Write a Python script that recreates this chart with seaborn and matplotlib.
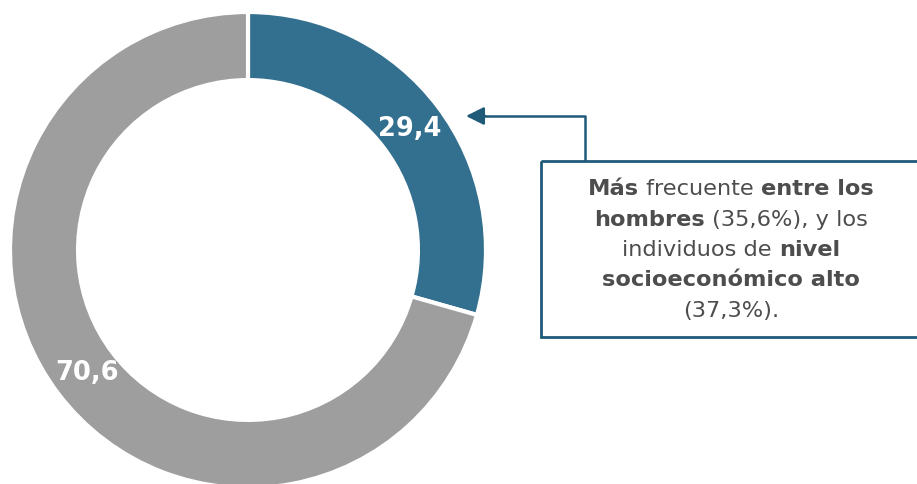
import numpy as np
import matplotlib
matplotlib.use("Agg")
import matplotlib.pyplot as plt
import seaborn as sns
from matplotlib.offsetbox import TextArea, HPacker, VPacker, AnchoredOffsetbox

sns.set_theme(style="white")
plt.rcParams['font.family'] = ['DejaVu Sans']

labels = ["Sí", "No"]
values = [29.4, 70.6]
colors = ["#336f8e", "#9d9e9d"]

note_lines = [
    [("Más", True), (" frecuente ", False), ("entre los", True)],
    [("hombres", True), (" (35,6%), y los", False)],
    [("individuos de ", False), ("nivel", True)],
    [("socioeconómico alto", True)],
    [("(37,3%).", False)],
]

W, H = 917, 485
fig = plt.figure(figsize=(W / 100, H / 100), dpi=100)

# donut
ax = fig.add_axes([10 / W, -4 / H, 476 / W, 476 / H])
wedges, texts, autotexts = ax.pie(
    values, startangle=90, counterclock=False, colors=colors,
    autopct=lambda p: f"{p:.1f}".replace(".", ","), pctdistance=0.85,
    wedgeprops=dict(width=0.286, edgecolor="white", linewidth=3),
    textprops=dict(color="white", fontsize=18.5, fontweight="bold"),
)
ax.set_xlim(-1, 1)
ax.set_ylim(-1, 1)
ax.set_aspect("equal")
ax.axis("off")
for w in wedges:
    w.set_clip_on(False)

# overlay in pixel coordinates
ov = fig.add_axes([0, 0, 1, 1])
ov.set_xlim(0, W)
ov.set_ylim(H, 0)
ov.axis("off")
ov.patch.set_alpha(0)

line_col = "#1f5a78"
ov.add_patch(plt.Rectangle((541, 162), 380, 176, fill=False,
                           edgecolor=line_col, linewidth=2, clip_on=False))
ov.plot([585, 585, 480], [162, 117, 117], color=line_col, linewidth=1.8,
        solid_capstyle="butt")
ov.annotate("", xy=(466, 117), xytext=(485, 117),
            arrowprops=dict(arrowstyle="-|>,head_length=0.9,head_width=0.45",
                            color=line_col, lw=1.8, shrinkA=0, shrinkB=0))

txt_col = "#4d4d4d"
rows = []
for line in note_lines:
    parts = [TextArea(s, textprops=dict(fontsize=16.2, color=txt_col,
                                        fontweight="bold" if b else "normal"))
             for s, b in line]
    rows.append(HPacker(children=parts, align="baseline", pad=0, sep=0))
box = VPacker(children=rows, align="center", pad=0, sep=7.5)
anch = AnchoredOffsetbox(loc="center", child=box, frameon=False,
                         bbox_to_anchor=(731, 250), bbox_transform=ov.transData,
                         borderpad=0, pad=0)
ov.add_artist(anch)

fig.savefig("out.png", dpi=100, facecolor="white")
